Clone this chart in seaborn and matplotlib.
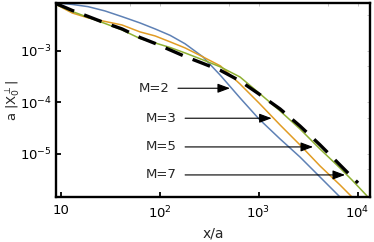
import numpy as np
import pandas as pd
import seaborn as sns
import matplotlib.pyplot as plt
from matplotlib.ticker import NullLocator

# values (log-log)
x_vals = [9.2, 13.1, 19.0, 28.1, 41.8, 63.5, 90.2, 128, 181, 275, 413, 650,
          1010, 1650, 2620, 4180, 6650, 8790, 12470]
m2 = [8.43e-3, 7.89e-3, 7.14e-3, 5.90e-3, 4.57e-3, 3.45e-3, 2.64e-3, 1.98e-3,
      1.36e-3, 7.55e-4, 3.30e-4, 1.21e-4, 4.72e-5, 1.93e-5, 8.63e-6, 3.52e-6,
      1.44e-6, 8.4e-7, 4.1e-7]
m3 = [7.71e-3, 5.39e-3, 4.32e-3, 3.69e-3, 3.15e-3, 2.31e-3, 1.93e-3, 1.48e-3,
      1.13e-3, 7.55e-4, 5.04e-4, 2.25e-4, 9.64e-5, 3.61e-5, 1.48e-5, 5.77e-6,
      2.47e-6, 1.44e-6, 7.71e-7]
m5 = [7.71e-3, 5.77e-3, 4.42e-3, 3.37e-3, 2.52e-3, 1.72e-3, 1.41e-3, 1.15e-3,
      9.02e-4, 6.60e-4, 4.82e-4, 3.08e-4, 1.51e-4, 6.75e-5, 3.02e-5, 1.23e-5,
      5.27e-6, 3.08e-6, 1.51e-6]
x_dash = x_vals[:18] + [10120]
m7 = [8.07e-3, 6.04e-3, 4.61e-3, 3.45e-3, 2.64e-3, 1.80e-3, 1.38e-3, 1.03e-3,
      7.71e-4, 5.64e-4, 4.13e-4, 2.58e-4, 1.44e-4, 7.38e-5, 3.45e-5, 1.48e-5,
      6.04e-6, 3.52e-6, 2.70e-6]

labels = ["M=2", "M=3", "M=5", "M=7"]
label_xy = [(61, 1.86e-4), (72, 4.87e-5), (72, 1.35e-5), (72, 3.86e-6)]
tip_xy = [(515, 1.86e-4), (1358, 4.87e-5), (3556, 1.35e-5), (7480, 3.86e-6)]

sns.set_style("ticks")
plt.rcParams['font.family'] = ['DejaVu Sans']
plt.rcParams['mathtext.fontset'] = 'dejavusans'

fig = plt.figure(figsize=(3.74, 2.42), dpi=100)
ax = fig.add_axes([0.1497, 0.1847, 0.8396, 0.8017])

sns.lineplot(x=x_vals, y=m2, color="#5E81B5", lw=1.1, sort=False, estimator=None, ax=ax)
sns.lineplot(x=x_vals, y=m3, color="#E19C24", lw=1.1, sort=False, estimator=None, ax=ax)
sns.lineplot(x=x_vals, y=m5, color="#8FB032", lw=1.1, sort=False, estimator=None, ax=ax)
sns.lineplot(x=x_dash, y=m7, color="black", lw=2.4, linestyle=(0, (5.6, 3.2)),
             sort=False, estimator=None, ax=ax)

ax.set_xscale("log")
ax.set_yscale("log")
ax.set_xlim(9.0, 13370)
ax.set_ylim(1.42e-6, 8.3e-3)

ax.set_xticks([10, 100, 1000, 10000])
ax.set_xticklabels(["10", "$10^2$", "$10^3$", "$10^4$"])
ax.set_yticks([1e-3, 1e-4, 1e-5])
ax.set_yticklabels(["$10^{-3}$", "$10^{-4}$", "$10^{-5}$"])
ax.xaxis.set_minor_locator(NullLocator())
ax.yaxis.set_minor_locator(NullLocator())
ax.tick_params(axis="both", direction="in", length=3.5, width=1.3, labelsize=9.5,
               colors="black")
ax.tick_params(axis="x", pad=5)
ax.tick_params(axis="y", pad=3)

# unlabeled frame ticks on top and right
sec_x = ax.secondary_xaxis("top")
sec_x.set_xticks([10, 50, 100, 500, 1000, 5000, 10000])
sec_x.set_xticklabels([])
sec_x.tick_params(direction="in", length=2, width=0.6, color="#bbbbbb")
sec_x.xaxis.set_minor_locator(NullLocator())
sec_y = ax.secondary_yaxis("right")
sec_y.set_yticks([5e-3, 1e-3, 5e-4, 1e-4, 5e-5, 1e-5, 5e-6])
sec_y.set_yticklabels([])
sec_y.tick_params(direction="in", length=2, width=0.6, color="#bbbbbb")
sec_y.yaxis.set_minor_locator(NullLocator())

for s in ax.spines.values():
    s.set_linewidth(1.7)
    s.set_color("black")
for s in list(sec_x.spines.values()) + list(sec_y.spines.values()):
    s.set_visible(False)

ax.set_xlabel("x/a", fontsize=10, labelpad=4)
ax.set_ylabel(r"a $|\mathrm{X}_0^{\perp}|$", fontsize=9.5)
ax.yaxis.set_label_coords(-0.108, 0.5)

for lab, (tx, ty), (px, py) in zip(labels, label_xy, tip_xy):
    ax.annotate(lab, xy=(px, py), xytext=(tx, ty), ha="left", va="center",
                fontsize=9.5,
                arrowprops=dict(arrowstyle="-|>,head_length=0.75,head_width=0.28",
                                color="black", lw=0.8, shrinkA=4, shrinkB=0,
                                mutation_scale=10))

fig.savefig("out.png", dpi=100)
